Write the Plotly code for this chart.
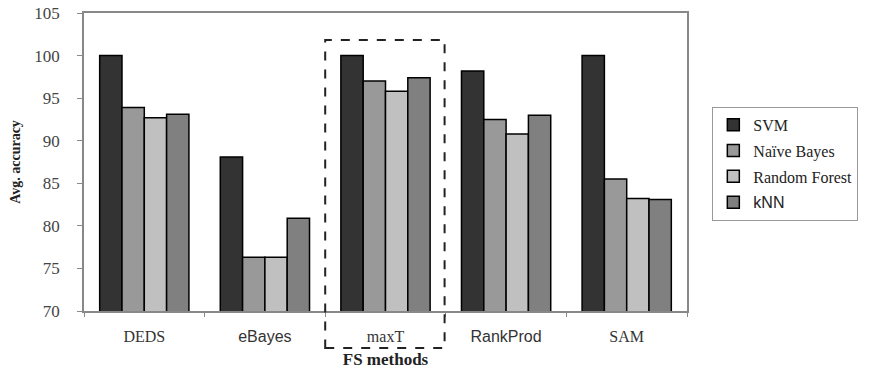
import plotly.graph_objects as go

categories = ["DEDS", "eBayes", "maxT", "RankProd", "SAM"]
tick_fonts = ["Liberation Serif", "Liberation Sans", "Liberation Serif", "Liberation Sans", "Liberation Serif"]
series_names = ["SVM", "Naïve Bayes", "Random Forest", "kNN"]
legend_sans = [False, False, False, True]
svm = [100.0, 88.1, 100.0, 98.2, 100.0]
naive_bayes = [93.9, 76.3, 97.0, 92.5, 85.5]
random_forest = [92.7, 76.3, 95.8, 90.8, 83.2]
knn = [93.1, 80.9, 97.4, 93.0, 83.1]
colors = ["#333333", "#999999", "#c0c0c0", "#808080"]

fig = go.Figure()
for i, (name, vals) in enumerate(zip(series_names, [svm, naive_bayes, random_forest, knn])):
    label = f'<span style="font-family:Liberation Sans">{name}</span>' if legend_sans[i] else name
    fig.add_trace(go.Bar(
        x=categories, y=vals, name=label, legendgroup=name,
        marker=dict(color=colors[i], line=dict(color="#000000", width=1.5)),
    ))

ticktext = [c if f == "Liberation Serif" else f'<span style="font-family:{f}">{c}</span>'
            for c, f in zip(categories, tick_fonts)]

fig.update_layout(
    width=870, height=370,
    margin=dict(l=84, r=176, t=13, b=59),
    paper_bgcolor="white", plot_bgcolor="white",
    barmode="group", bargap=0.26, bargroupgap=0,
    font=dict(family="Liberation Serif", size=16, color="#333333"),
    showlegend=True,
    legend=dict(
        x=1.042, y=0.685, xanchor="left", yanchor="top",
        bordercolor="#999999", borderwidth=1, bgcolor="white",
        font=dict(family="Liberation Serif", size=16, color="#222222"),
        traceorder="grouped", tracegroupgap=2,
        itemwidth=30,
    ),
    xaxis=dict(
        automargin=False,
        tickmode="array", tickvals=categories, ticktext=ticktext,
        tickson="boundaries", ticks="outside", ticklen=4, tickcolor="#888888",
        showline=True, linecolor="#888888", linewidth=1.5, mirror=True,
        tickfont=dict(family="Liberation Serif", size=16, color="#333333"),
        ticklabelstandoff=10,
        title=dict(text="<b>FS methods</b>", standoff=9,
                   font=dict(family="Liberation Serif", size=17, color="#222222")),
        showgrid=False,
    ),
    yaxis=dict(
        automargin=False,
        range=[70, 105], dtick=5, ticks="outside", ticklen=5, tickcolor="#888888",
        showline=True, linecolor="#888888", linewidth=1.5, mirror=True,
        showgrid=False, zeroline=False,
        ticklabelstandoff=14,
        tickfont=dict(family="Liberation Serif", size=17, color="#444444"),
        title=dict(text="<b>Avg. accuracy</b>", standoff=10,
                   font=dict(family="Liberation Serif", size=14, color="#222222")),
    ),
)

fig.add_shape(type="rect", xref="x", yref="paper",
              x0=1.5, x1=2.49, y0=-0.124, y1=0.909,
              line=dict(color="#222222", width=2, dash="dash"),
              fillcolor="rgba(0,0,0,0)")

fig.write_html("out.html", config={"displayModeBar": False},
               post_script="document.body.style.margin='0';document.body.style.overflow='hidden';")
